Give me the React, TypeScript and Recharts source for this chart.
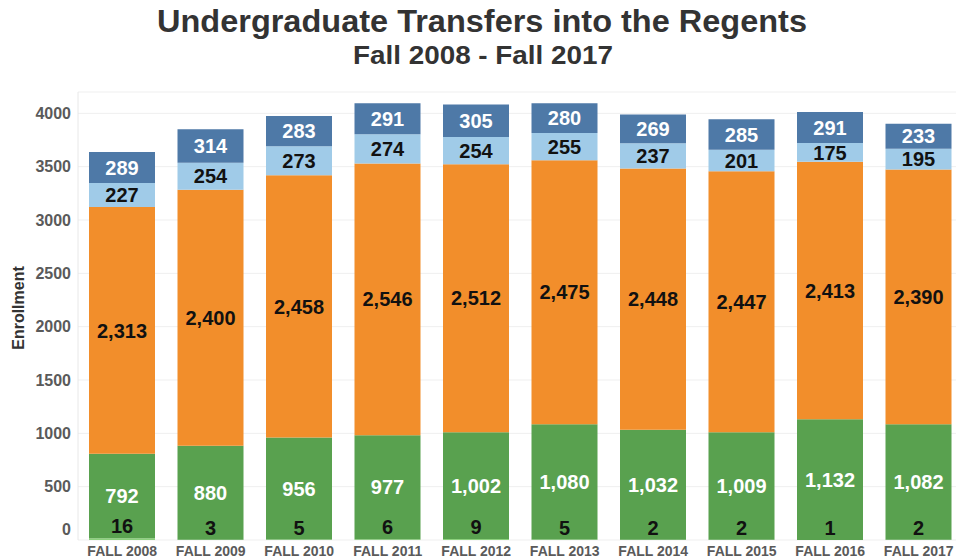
import React from 'react';
import { BarChart, Bar, XAxis, YAxis, CartesianGrid, LabelList } from 'recharts';

const categories = ['FALL 2008', 'FALL 2009', 'FALL 2010', 'FALL 2011', 'FALL 2012', 'FALL 2013', 'FALL 2014', 'FALL 2015', 'FALL 2016', 'FALL 2017'];
const seriesA = [16, 3, 5, 6, 9, 5, 2, 2, 1, 2];
const seriesB = [792, 880, 956, 977, 1002, 1080, 1032, 1009, 1132, 1082];
const seriesC = [2313, 2400, 2458, 2546, 2512, 2475, 2448, 2447, 2413, 2390];
const seriesD = [227, 254, 273, 274, 254, 255, 237, 201, 175, 195];
const seriesE = [289, 314, 283, 291, 305, 280, 269, 285, 291, 233];
const yTicks = [0, 500, 1000, 1500, 2000, 2500, 3000, 3500, 4000];

const data = categories.map((name, i) => ({
  name,
  a: seriesA[i],
  b: seriesB[i],
  c: seriesC[i],
  d: seriesD[i],
  e: seriesE[i],
}));

const FONT = '"Liberation Sans", Arial, sans-serif';
const fmt = (v: any) => Number(v).toLocaleString('en-US');

const labelStyle = (color: string) => ({
  fill: color,
  fontFamily: FONT,
  fontWeight: 700,
  fontSize: 20,
});

const BottomLabel = (props: any) => {
  const { x, y, width, value } = props;
  return (
    <text x={x + width / 2} y={y - 12} dy="0.355em" textAnchor="middle" style={labelStyle('#111')}>
      {fmt(value)}
    </text>
  );
};

const YTick = (props: any) => {
  const { y, payload } = props;
  const yy = payload.value === 0 ? y - 11 : y;
  return (
    <text x={71} y={yy} dy="0.355em" textAnchor="end" fill="#5a5a5a" fontFamily={FONT} fontWeight={700} fontSize={16}>
      {payload.value}
    </text>
  );
};

const XTick = (props: any) => {
  const { x, payload } = props;
  return (
    <text x={x} y={540 + 11} dy="0.355em" textAnchor="middle" fill="#5a5a5a" fontFamily={FONT} fontWeight={700} fontSize={14}>
      {payload.value}
    </text>
  );
};

export default function App() {
  return (
    <div style={{ position: 'absolute', left: 0, top: 0, width: 956, height: 558, overflow: 'hidden', background: '#fff' }}>
      <BarChart width={963} height={558} data={data} margin={{ top: 92, right: 0, bottom: 0, left: 0 }} barSize={66}>
        <CartesianGrid vertical={false} stroke="#efefef" />
        <XAxis dataKey="name" tick={<XTick />} tickLine={false} axisLine={false} tickSize={0} tickMargin={0} height={18} interval={0} />
        <YAxis
          domain={[0, 4200]}
          ticks={yTicks}
          width={78}
          tick={<YTick />}
          tickLine={false}
          axisLine={{ stroke: '#e8e8e8' }}
          allowDataOverflow
        />
        <Bar dataKey="a" stackId="s" fill="#8CD17D" isAnimationActive={false}>
          <LabelList dataKey="a" content={<BottomLabel />} />
        </Bar>
        <Bar dataKey="b" stackId="s" fill="#59A14F" isAnimationActive={false}>
          <LabelList dataKey="b" position="center" formatter={fmt} style={labelStyle('#ffffff')} />
        </Bar>
        <Bar dataKey="c" stackId="s" fill="#F28E2B" isAnimationActive={false}>
          <LabelList dataKey="c" position="center" formatter={fmt} style={labelStyle('#111')} />
        </Bar>
        <Bar dataKey="d" stackId="s" fill="#A0CBE8" isAnimationActive={false}>
          <LabelList dataKey="d" position="center" formatter={fmt} style={labelStyle('#111')} />
        </Bar>
        <Bar dataKey="e" stackId="s" fill="#4E79A7" isAnimationActive={false}>
          <LabelList dataKey="e" position="center" formatter={fmt} style={labelStyle('#ffffff')} />
        </Bar>
      </BarChart>
      <svg width={956} height={558} style={{ position: 'absolute', left: 0, top: 0, pointerEvents: 'none' }}>
        <text x={482} y={32} textAnchor="middle" textLength={650} lengthAdjust="spacingAndGlyphs" fill="#333333" fontFamily={FONT} fontWeight={700} fontSize={31}>
          Undergraduate Transfers into the Regents
        </text>
        <text x={483} y={64} textAnchor="middle" textLength={260} lengthAdjust="spacingAndGlyphs" fill="#333333" fontFamily={FONT} fontWeight={700} fontSize={25}>
          Fall 2008 - Fall 2017
        </text>
        <text x={18} y={308} transform="rotate(-90 18 308)" dy="0.355em" textAnchor="middle" fill="#333333" fontFamily={FONT} fontWeight={700} fontSize={16}>
          Enrollment
        </text>
      </svg>
    </div>
  );
}
